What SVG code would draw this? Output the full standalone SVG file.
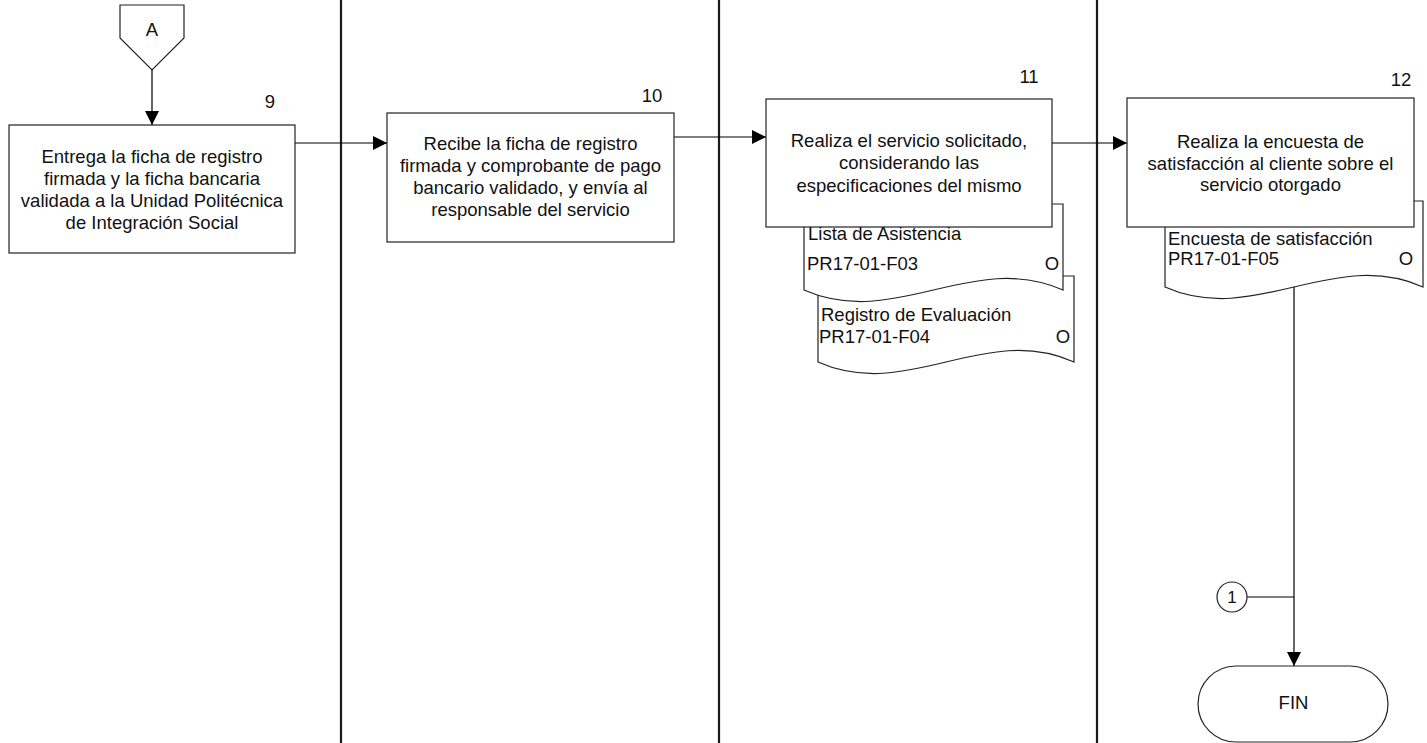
<svg xmlns="http://www.w3.org/2000/svg" width="1427" height="743" viewBox="0 0 1427 743">
<defs>
<style>
text{font-family:"Liberation Sans",Arial,sans-serif;font-size:18.5px;fill:#111}
.c{text-anchor:middle}
.box{fill:#fff;stroke:#222;stroke-width:1.2}
.doc{fill:#fff;stroke:#222;stroke-width:1.2}
.lane{stroke:#1a1a1a;stroke-width:2.2}
.con{fill:none;stroke:#000;stroke-width:1.2}
</style>
<marker id="ah" markerUnits="userSpaceOnUse" markerWidth="14" markerHeight="14" refX="14" refY="7" orient="auto">
<path d="M0,0 L14,7 L0,14 Z" fill="#000"/>
</marker>
</defs>
<rect width="1427" height="743" fill="#fff"/>
<g id="lanes">
<line class="lane" x1="341" y1="0" x2="341" y2="743"/>
<line class="lane" x1="719" y1="0" x2="719" y2="743"/>
<line class="lane" x1="1097" y1="0" x2="1097" y2="743"/>
</g>
<g id="connectors">
<line class="con" x1="152" y1="70" x2="152" y2="125" marker-end="url(#ah)"/>
<line class="con" x1="295" y1="143" x2="387" y2="143" marker-end="url(#ah)"/>
<line class="con" x1="674" y1="137" x2="766" y2="137" marker-end="url(#ah)"/>
<line class="con" x1="1052" y1="143" x2="1127" y2="143" marker-end="url(#ah)"/>
<line class="con" x1="1294" y1="287" x2="1294" y2="666" marker-end="url(#ah)"/>
<line class="con" x1="1247" y1="597" x2="1294" y2="597"/>
</g>
<g id="connA">
<path class="box" d="M120,5 L184,5 L184,38 L152,70 L120,38 Z"/>
<text class="c" x="152" y="36">A</text>
</g>
<g id="step9">
<rect class="box" x="9" y="125" width="286" height="128"/>
<text x="270" y="108" class="c">9</text>
<text class="c" x="152" y="163">Entrega la ficha de registro</text>
<text class="c" x="152" y="185">firmada y la ficha bancaria</text>
<text class="c" x="152" y="207">validada a la Unidad Politécnica</text>
<text class="c" x="152" y="229">de Integración Social</text>
</g>
<g id="step10">
<rect class="box" x="387" y="113" width="287" height="129"/>
<text x="652" y="102" class="c">10</text>
<text class="c" x="530.5" y="150">Recibe la ficha de registro</text>
<text class="c" x="530.5" y="172">firmada y comprobante de pago</text>
<text class="c" x="530.5" y="194">bancario validado, y envía al</text>
<text class="c" x="530.5" y="216">responsable del servicio</text>
</g>
<g id="doc-F04">
<path class="doc" d="M818,276 L1074,276 L1074,362 C984,322 908,402 818,362 Z"/>
<text x="821" y="321">Registro de Evaluación</text>
<text x="819" y="343">PR17-01-F04</text>
<text x="1063" y="343" class="c">O</text>
</g>
<g id="doc-F03">
<path class="doc" d="M804,204 L1063,204 L1063,290 C972,250 895,330 804,290 Z"/>
<text x="808" y="240">Lista de Asistencia</text>
<text x="807" y="270">PR17-01-F03</text>
<text x="1052" y="270" class="c">O</text>
</g>
<g id="step11">
<rect class="box" x="766" y="99" width="286" height="128"/>
<text x="1029" y="83" class="c">11</text>
<text class="c" x="909" y="147">Realiza el servicio solicitado,</text>
<text class="c" x="909" y="169">considerando las</text>
<text class="c" x="909" y="192">especificaciones del mismo</text>
</g>
<g id="doc-F05">
<path class="doc" d="M1165,201 L1423,201 L1423,287 C1333,247 1255,327 1165,287 Z"/>
<text x="1168" y="245">Encuesta de satisfacción</text>
<text x="1168" y="265">PR17-01-F05</text>
<text x="1406" y="265" class="c">O</text>
</g>
<g id="step12">
<rect class="box" x="1127" y="98" width="287" height="129"/>
<text x="1401" y="86" class="c">12</text>
<text class="c" x="1270.5" y="148">Realiza la encuesta de</text>
<text class="c" x="1270.5" y="170">satisfacción al cliente sobre el</text>
<text class="c" x="1270.5" y="191">servicio otorgado</text>
</g>
<g id="conn1">
<circle class="box" cx="1232" cy="597" r="15"/>
<text class="c" x="1232" y="603" style="font-size:17px">1</text>
</g>
<g id="fin">
<rect class="box" x="1198" y="666" width="190" height="76" rx="38" ry="38"/>
<text class="c" x="1293.5" y="709">FIN</text>
</g>
</svg>
